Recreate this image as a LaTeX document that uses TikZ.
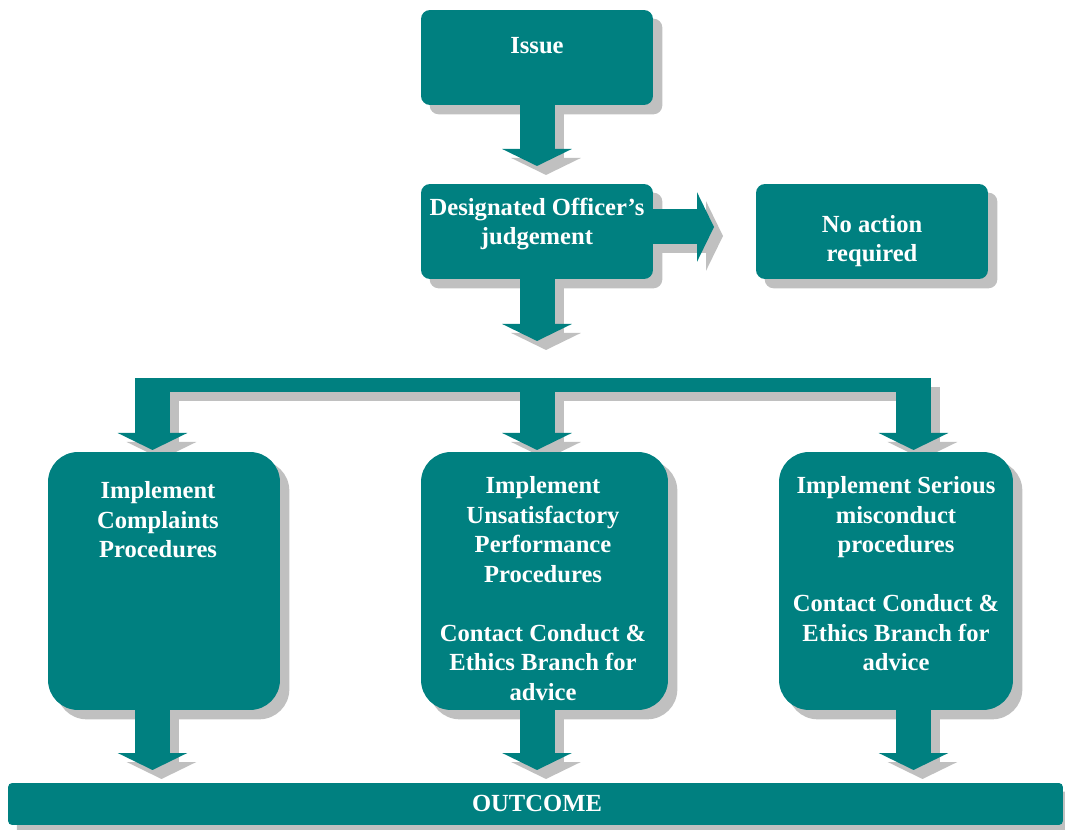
\documentclass[tikz,border=0pt]{standalone}
\usepackage{fontspec}
\setmainfont{Liberation Serif}
\usetikzlibrary{positioning,arrows.meta}

\definecolor{boxteal}{RGB}{0,128,128}
\definecolor{shadegray}{RGB}{192,192,192}

\pgfdeclarelayer{shade}
\pgfsetlayers{shade,main}

\tikzset{
  smallbox/.style={fill=boxteal, rounded corners=0.18cm, inner sep=0pt,
    minimum width=4.64cm, minimum height=1.9cm},
  tallbox/.style={fill=boxteal, rounded corners=0.6cm, inner sep=0pt,
    minimum height=5.16cm},
  txt/.style={text=white, align=center, inner sep=0pt,
    font=\bfseries\fontsize{14}{16.8}\selectfont},
  fat/.style={draw=boxteal, line width=0.7cm,
    -{Triangle[length=0.34cm,width=1.38cm]}},
  bar/.style={draw=boxteal, line width=0.28cm},
}

% shadow behind a box: node name, corner radius
\newcommand\ShadeBox[2]{%
  \begin{pgfonlayer}{shade}
    \fill[shadegray, rounded corners=#2] ([shift={(9,9)}]#1.south west)
      rectangle ([shift={(9,9)}]#1.north east);
  \end{pgfonlayer}}
% block arrow with its shadow: from, to
\newcommand\FatArrow[2]{%
  \begin{pgfonlayer}{shade}
    \draw[fat, draw=shadegray] ([shift={(9,9)}]#1) -- ([shift={(9,9)}]#2);
  \end{pgfonlayer}
  \draw[fat] (#1) -- (#2);}

\begin{document}
\begin{tikzpicture}[x=0.02cm, y=-0.02cm]
  \useasboundingbox (0,0) rectangle (1065,830);

  %%%%%%%%%%%%%%%%% boxes %%%%%%%%%%%%%%%%%%%
  \node[smallbox] (issue)  at (537,57.5)  {};
  \node[smallbox] (desig)  at (537,231.5) {};
  \node[smallbox] (noact)  at (872,231.5) {};
  \node[tallbox, minimum width=4.64cm] (comp)    at (164,581)   {};
  \node[tallbox, minimum width=4.94cm] (perf)    at (544.5,581) {};
  \node[tallbox, minimum width=4.68cm] (serious) at (896,581)   {};
  \node[fill=boxteal, rounded corners=0.08cm, inner sep=0pt,
    minimum width=21.1cm, minimum height=0.84cm] (outcome) at (535.5,804) {};

  \foreach \name in {issue,desig,noact} {\ShadeBox{\name}{0.18cm}}
  \foreach \name in {comp,perf,serious} {\ShadeBox{\name}{0.6cm}}
  \ShadeBox{outcome}{0.08cm}

  %%%%%%%%%%%%%%%%% texts %%%%%%%%%%%%%%%%%%%
  \node[txt] (issuetext)   at (537,46)    {Issue};
  \node[txt] (desigtext)   at (537,224)   {Designated Officer’s\\judgement};
  \node[txt] (noacttext)   at (872,241)   {No action\\required};
  \node[txt] (comptext)    at (158,520)   {Implement\\Complaints\\Procedures};
  \node[txt] (perftext)    at (543,588.5) {Implement\\Unsatisfactory\\Performance\\Procedures\\[16.8pt]
    Contact Conduct \&\\Ethics Branch for\\advice};
  \node[txt] (serioustext) at (896,574)   {Implement Serious\\misconduct\\procedures\\[16.8pt]
    Contact Conduct \&\\Ethics Branch for\\advice};
  \node[txt] (outcometext) at (537,803)   {OUTCOME};

  %%%%%%%%%%%%%%%%% arrows %%%%%%%%%%%%%%%%%%
  \coordinate (issuetip) at (537,166);
  \coordinate (splittip) at (537,341);
  \coordinate (desigout) at (653,227);
  \coordinate (noacttip) at (714,227);
  \FatArrow{issue.south}{issuetip}
  \FatArrow{desig.south}{splittip}
  \FatArrow{desigout}{noacttip}

  % split bar over the three procedures
  \coordinate (barwest) at (135,385);
  \coordinate (bareast) at (931,385);
  \begin{pgfonlayer}{shade}
    \draw[bar, draw=shadegray] ([shift={(9,9)}]barwest) -- ([shift={(9,9)}]bareast);
  \end{pgfonlayer}
  \draw[bar] (barwest) -- (bareast);

  \foreach \name/\x in {comp/152.5,perf/537,serious/913.5} {%
    \coordinate (\name-in)  at (\x,378);
    \coordinate (\name-tip) at (\x,450);
    \coordinate (\name-out) at (\x,710);
    \coordinate (\name-end) at (\x,770);
    \FatArrow{\name-in}{\name-tip}
    \FatArrow{\name-out}{\name-end}}
\end{tikzpicture}
\end{document}
